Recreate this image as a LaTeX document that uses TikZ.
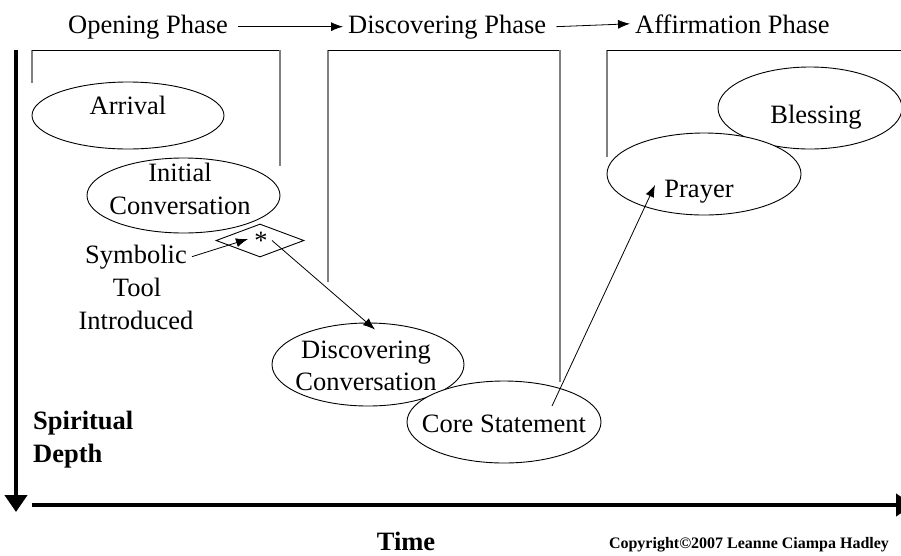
\documentclass[tikz,border=0pt]{standalone}
\usepackage{fontspec}
\setmainfont{Liberation Serif}
\usetikzlibrary{shapes.geometric,arrows.meta}
\begin{document}
\begin{tikzpicture}[x=1pt,y=-1pt,
  lbl/.style={font=\fontsize{26.5}{33}\selectfont, inner sep=0pt, anchor=base},
  blbl/.style={font=\fontsize{26.5}{33}\selectfont\bfseries, inner sep=0pt, anchor=base},
  ell/.style={draw, ellipse, fill=white, line width=0.9pt, inner sep=0pt},
  brkv/.style={draw=gray, line width=2pt},
  brkh/.style={draw=black, line width=1pt},
  conn/.style={-{Latex[length=12pt,width=9pt]}, line width=0.8pt},
  axisline/.style={line width=4.5pt, -{Triangle[length=17pt,width=22pt]}}
]
\useasboundingbox (0,0) rectangle (901,555);

% header
\node[lbl, anchor=base west] (open) at (68,33) {Opening Phase};
\node[lbl, anchor=base west] (disc) at (348,33) {Discovering Phase};
\node[lbl, anchor=base west] (affi) at (635,33) {Affirmation Phase};
\draw[conn] ([xshift=10pt]open.east) -- ([xshift=-5pt]disc.west);
\draw[conn] ([xshift=10pt]disc.east) -- ([xshift=-5pt]affi.west);

% brackets
\draw[brkv] (32,83) -- (32,50);
\draw[brkh] (32,50) -- (280,50);
\draw[brkv] (280,50) -- (280,166);
\draw[brkv] (328,282) -- (328,50);
\draw[brkh] (328,50) -- (560,50);
\draw[brkv] (560,50) -- (560,382);
\draw[brkv] (607,157) -- (607,50);
\draw[brkh] (607,50) -- (901,50);

% axes
\coordinate (vtop) at (16,50);
\coordinate (vbot) at (16,512);
\coordinate (hleft) at (32,505);
\coordinate (hright) at (913,505);
\draw[axisline] (vtop) -- (vbot);
\draw[axisline] (hleft) -- (hright);

% ellipses
\node[ell, minimum width=192pt, minimum height=67pt] (arrival) at (128,115.5) {};
\node[ell, minimum width=193pt, minimum height=75pt] (initial) at (183.5,195.5) {};
\node[ell, minimum width=192pt, minimum height=83pt] (dcon) at (368,364.5) {};
\node[ell, minimum width=194pt, minimum height=82pt] (core) at (504,422) {};
\node[ell, minimum width=184pt, minimum height=82pt] (bless) at (810,108) {};
\node[ell, minimum width=194pt, minimum height=82pt] (prayer) at (704,174) {};
\node[draw, diamond, fill=white, line width=0.9pt, inner sep=0pt, minimum width=88pt, minimum height=33pt] (dia) at (260,240.5) {};

% texts
\node[lbl] (tarr) at (128,114) {Arrival};
\node[lbl] (tini1) at (180,181) {Initial};
\node[lbl] (tini2) at (180,214) {Conversation};
\node[lbl] (tdc1) at (366,358) {Discovering};
\node[lbl] (tdc2) at (366,390) {Conversation};
\node[lbl] (tcore) at (504,432) {Core Statement};
\node[lbl] (tpray) at (699,197) {Prayer};
\node[lbl] (tbless) at (816,123) {Blessing};
\node[lbl] (star) at (261,249) {*};
\node[lbl] (sym) at (136,263) {Symbolic};
\node[lbl] (tool) at (137,296) {Tool};
\node[lbl] (intro) at (136,329) {Introduced};
\node[blbl, anchor=base west] (spir) at (33,429) {Spiritual};
\node[blbl, anchor=base west] (depth) at (33,462) {Depth};
\node[blbl] (time) at (406,550) {Time};
\node[font=\fontsize{16}{19}\selectfont\bfseries, inner sep=0pt, anchor=base] (copy) at (749,548) {Copyright©2007 Leanne Ciampa Hadley};

% connectors
\draw[conn] ([xshift=5pt]sym.east) -- ([shift={(-12pt,1.5pt)}]dia.center);
\draw[conn] ([xshift=12pt]dia.center) -- ([shift={(7pt,-7pt)}]dcon.north);
\draw[conn] ([shift={(48pt,16pt)}]core.center) -- ([shift={(-49pt,-11pt)}]prayer.center);
\end{tikzpicture}
\end{document}
